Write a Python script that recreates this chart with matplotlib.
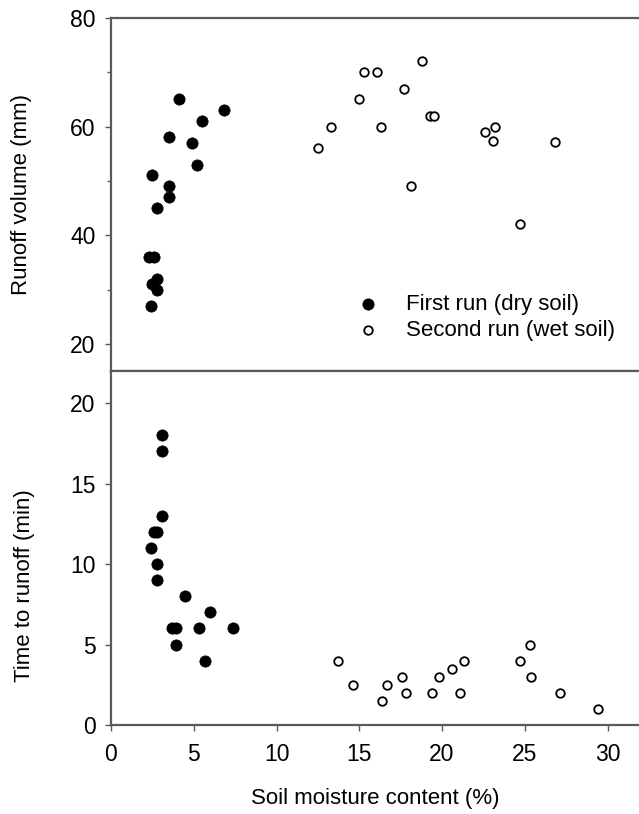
import matplotlib
matplotlib.use('Agg')
from matplotlib import pyplot as plt
from matplotlib.ticker import MultipleLocator

plt.rcParams['font.family'] = ['Liberation Sans', 'DejaVu Sans']

# runoff volume (mm) vs soil moisture (%)
dry_moist_vol = [4.1, 6.8, 5.5, 3.5, 4.9, 5.2, 2.5, 3.5, 3.5, 2.8, 2.3, 2.6, 2.8, 2.5, 2.8, 2.4]
dry_vol = [65, 63, 61, 58, 57, 53, 51, 49, 47, 45, 36, 36, 32, 31, 30, 27]
wet_moist_vol = [12.5, 13.3, 15.0, 15.3, 16.1, 16.3, 17.7, 18.8, 18.1, 19.3, 19.5, 22.6, 23.2, 23.1, 26.8, 24.7]
wet_vol = [56, 60, 65, 70, 70, 60, 67, 72, 49, 62, 62, 59, 60, 57.3, 57.1, 42]

# time to runoff (min) vs soil moisture (%)
dry_moist_time = [3.1, 3.1, 3.1, 2.6, 2.8, 2.4, 2.8, 2.8, 4.5, 6.0, 3.7, 3.9, 5.3, 7.4, 3.9, 5.7]
dry_time = [18, 17, 13, 12, 12, 11, 10, 9, 8, 7, 6, 6, 6, 6, 5, 4]
wet_moist_time = [13.7, 14.6, 16.4, 16.7, 17.6, 17.8, 19.4, 19.8, 20.6, 21.3, 21.1, 24.7, 25.3, 25.4, 27.1, 29.4]
wet_time = [4, 2.5, 1.5, 2.5, 3, 2, 2, 3, 3.5, 4, 2, 4, 5, 3, 2, 1]

fs = 16
tfs = 16.5
spine_c = '#5a5a5a'

fig = plt.figure(figsize=(6.39, 8.14), dpi=100)
ax1 = fig.add_axes([0.1737, 0.5442, 0.8263, 0.4337])
ax2 = fig.add_axes([0.1737, 0.1093, 0.8263, 0.4349])

ax1.scatter(dry_moist_vol, dry_vol, s=66, c='black', edgecolors='black', linewidths=0.5,
            label='First run (dry soil)', zorder=3)
ax1.scatter(wet_moist_vol, wet_vol, s=38, facecolors='white', edgecolors='black', linewidths=1.3,
            label='Second run (wet soil)', zorder=3)
ax2.scatter(dry_moist_time, dry_time, s=66, c='black', edgecolors='black', linewidths=0.5, zorder=3)
ax2.scatter(wet_moist_time, wet_time, s=38, facecolors='white', edgecolors='black', linewidths=1.3, zorder=3)

for ax in (ax1, ax2):
    ax.set_xlim(0, 31.9)
    ax.spines['right'].set_visible(False)
    for sp in ('left', 'top', 'bottom'):
        ax.spines[sp].set_color(spine_c)
        ax.spines[sp].set_linewidth(1.6)
    ax.xaxis.set_major_locator(MultipleLocator(5))
    ax.tick_params(axis='both', which='both', direction='out', length=4, width=1.0,
                   color=spine_c, labelsize=tfs, pad=7)

ax1.set_ylim(15, 80)
ax1.yaxis.set_major_locator(MultipleLocator(20))
ax1.yaxis.set_minor_locator(MultipleLocator(10))
ax1.tick_params(axis='y', which='minor', length=3)
ax1.tick_params(axis='x', labelbottom=False)
ax1.set_ylabel('Runoff volume (mm)', fontsize=fs)
ax1.yaxis.set_label_coords(-0.15, 0.5)

ax2.set_ylim(0, 22)
ax2.yaxis.set_major_locator(MultipleLocator(5))
ax2.tick_params(axis='x', pad=9)
ax2.set_ylabel('Time to runoff (min)', fontsize=fs)
ax2.yaxis.set_label_coords(-0.144, 0.395)
ax2.set_xlabel('Soil moisture content (%)', fontsize=fs, labelpad=16)

ax1.legend(loc='center left', bbox_to_anchor=(0.466, 0.152), frameon=False, fontsize=fs,
           handlelength=1.0, handletextpad=1.2, borderpad=0, borderaxespad=0, labelspacing=0.25)

fig.savefig('out.png', dpi=100)
